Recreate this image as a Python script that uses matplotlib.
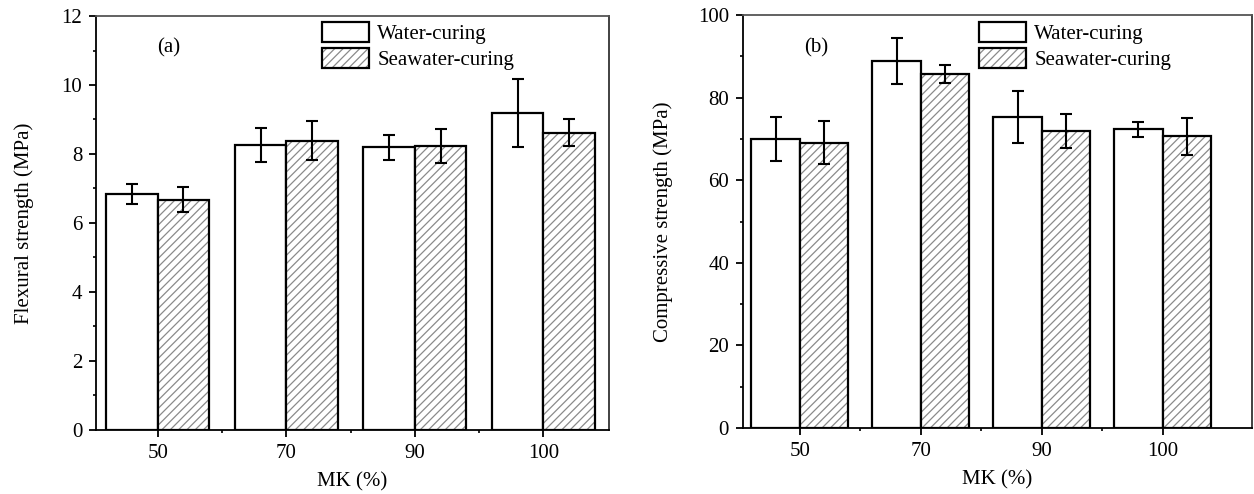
import numpy as np
import matplotlib
matplotlib.use("Agg")
import matplotlib.pyplot as plt
from matplotlib.ticker import MultipleLocator, FixedLocator
from matplotlib.legend_handler import HandlerTuple

plt.rcParams['font.family'] = ['Liberation Serif', 'DejaVu Serif']
plt.rcParams['font.size'] = 15
plt.rcParams['hatch.linewidth'] = 0.9

categories = ["50", "70", "90", "100"]
series = ["Water-curing", "Seawater-curing"]

flex_water = [6.84, 8.25, 8.20, 9.19]
flex_water_err = [0.29, 0.49, 0.36, 0.98]
flex_sea = [6.68, 8.39, 8.24, 8.62]
flex_sea_err = [0.37, 0.56, 0.49, 0.38]

comp_water = [69.9, 88.9, 75.4, 72.3]
comp_water_err = [5.3, 5.5, 6.3, 1.8]
comp_sea = [69.1, 85.8, 72.0, 70.6]
comp_sea_err = [5.2, 2.2, 4.1, 4.4]

HATCH_GREY = '#8a8a8a'


def draw_panel(ax, water, water_err, sea, sea_err, ymax, major, minor, ylabel,
               tag, tag_y, xlim, ylabelpad, legend_x):
    x = np.arange(len(categories))
    w = 0.4
    b1 = ax.bar(x, water, width=-w, align='edge', color='white', edgecolor='black',
                linewidth=1.6)
    # hatch drawn in grey, outline drawn on top in black
    b2h = ax.bar(x, sea, width=w, align='edge', color='white', edgecolor=HATCH_GREY,
                 linewidth=0, hatch='////')
    b2o = ax.bar(x, sea, width=w, align='edge', fill=False, edgecolor='black',
                 linewidth=1.6)
    ax.errorbar(x - w / 2, water, yerr=water_err, fmt='none', ecolor='black',
                elinewidth=1.5, capsize=4.3, capthick=1.5)
    ax.errorbar(x + w / 2, sea, yerr=sea_err, fmt='none', ecolor='black',
                elinewidth=1.5, capsize=4.3, capthick=1.5)
    ax.set_xlim(*xlim)
    ax.set_ylim(0, ymax)
    ax.set_xticks(x)
    ax.set_xticklabels(categories)
    ax.xaxis.set_minor_locator(FixedLocator(x[:-1] + 0.5))
    ax.yaxis.set_major_locator(MultipleLocator(major))
    ax.yaxis.set_minor_locator(MultipleLocator(minor))
    ax.tick_params(which='major', direction='out', length=5, width=1.3, pad=5)
    ax.tick_params(which='minor', direction='out', length=2.5, width=1.2)
    for s in ax.spines.values():
        s.set_linewidth(1.3)
    ax.spines['top'].set_color('#555555')
    ax.spines['right'].set_color('#333333')
    ax.set_xlabel("MK (%)", labelpad=7)
    ax.set_ylabel(ylabel, labelpad=ylabelpad)
    ax.text(0.12, tag_y, tag, transform=ax.transAxes, ha='left', va='center')

    ax.legend([b1[0], (b2h[0], b2o[0])], series,
              handler_map={tuple: HandlerTuple(ndivide=1, pad=0)},
              loc='upper left', bbox_to_anchor=(legend_x, 472 / 494),
              bbox_transform=ax.figure.transFigure, frameon=False, borderpad=0,
              borderaxespad=0, handlelength=2.25, handleheight=1.1,
              labelspacing=0.2, handletextpad=0.4)


fig = plt.figure(figsize=(12.54, 4.94), dpi=100)
ax1 = fig.add_axes([0.0766, 0.1296, 0.409, 0.838])
ax2 = fig.add_axes([0.5925, 0.1336, 0.406, 0.836])

draw_panel(ax1, flex_water, flex_water_err, flex_sea, flex_sea_err,
           12, 2, 1, "Flexural strength (MPa)", "(a)", 0.923, (-0.48, 3.51),
           20, 322 / 1254)
draw_panel(ax2, comp_water, comp_water_err, comp_sea, comp_sea_err,
           100, 20, 10, "Compressive strength (MPa)", "(b)", 0.92, (-0.47, 3.74),
           18, 979 / 1254)

fig.savefig("out.png", dpi=100)
